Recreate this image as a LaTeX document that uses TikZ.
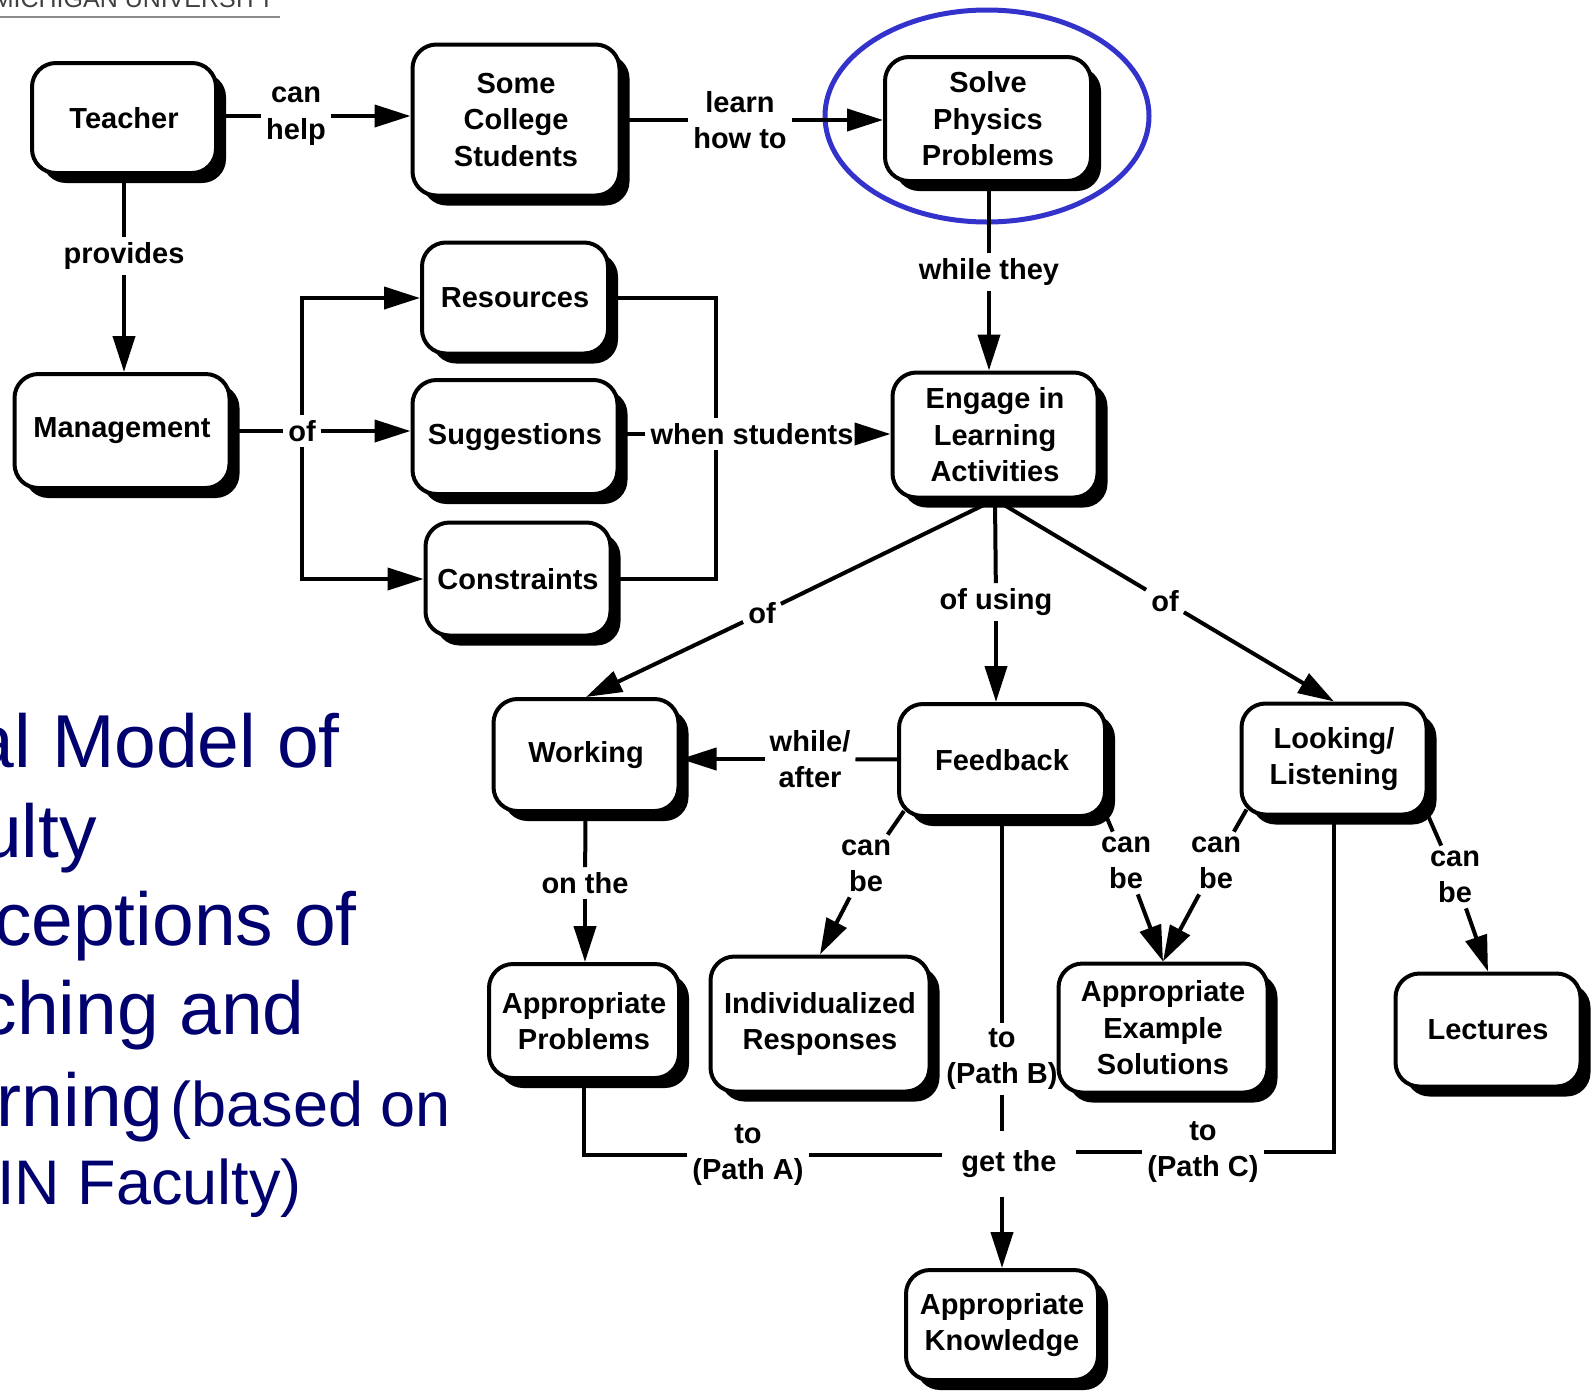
\documentclass[tikz,border=0pt]{standalone}
\usepackage{fontspec}
\setmainfont{Liberation Sans}
\usetikzlibrary{arrows.meta,shadows,backgrounds}

\newcommand{\mapfont}{\fontsize{29}{36.5}\selectfont\bfseries}
\newcommand{\titlebig}{\fontsize{75}{88}\selectfont}
\newcommand{\titlesmall}{\fontsize{63}{77}\selectfont}
\definecolor{titleblue}{RGB}{0,0,110}
\definecolor{ringblue}{RGB}{51,51,204}

\tikzset{
  concept/.style={draw, line width=4pt, rounded corners=24pt, fill=white,
    align=center, font=\mapfont, inner sep=4pt,
    drop shadow={shadow xshift=10pt, shadow yshift=-10pt, opacity=1, fill=black}},
  linkword/.style={font=\mapfont, align=center, inner sep=5pt},
  link/.style={line width=4pt},
  linkarrow/.style={line width=4pt, -{Triangle[length=36pt,width=22pt]}},
  title/.style={font=\titlebig, text=titleblue, inner sep=0pt, anchor=base east},
}

\begin{document}
\begin{tikzpicture}[x=1pt,y=-1pt]
      \useasboundingbox (0,0) rectangle (1593,1393);
      % Header and title
      \node[font=\fontsize{25}{30}\selectfont, text=black!75, anchor=base east, inner sep=0pt] (univ) at (275,7) {MICHIGAN UNIVERSITY};
      \draw[black!45, line width=2.5pt] (0,17) -- (280,17);
      \node[title] (title1) at (340,767)  {al Model of};
      \node[title] (title2) at (97,857)   {ulty};
      \node[title] (title3) at (357,945)  {ceptions of};
      \node[title] (title4) at (305,1034) {ching and};
      \node[title] (title5) at (451,1126) {rning\hspace{7pt}\titlesmall(based on};
      \node[title, font=\titlesmall] (title6) at (302,1204) {IN Faculty)};
      % Concepts
      \node[concept, minimum width=184pt, minimum height=110pt] (teacher) at (124,118) {Teacher};
      \node[concept, minimum width=207pt, minimum height=151pt] (college) at (516,120) {Some\\College\\Students};
      \node[concept, minimum width=206pt, minimum height=124pt] (solve) at (988,119) {Solve\\Physics\\Problems};
      \node[concept, minimum width=186pt, minimum height=111pt] (resources) at (515,298) {Resources};
      \node[concept, minimum width=215pt, minimum height=114pt] (management) at (122,431) {Management};
      \node[concept, minimum width=205pt, minimum height=114pt] (suggestions) at (515,437) {Suggestions};
      \node[concept, minimum width=185pt, minimum height=113pt] (constraints) at (518,579) {Constraints};
      \node[concept, minimum width=205pt, minimum height=125pt] (engage) at (995,435) {Engage in\\Learning\\Activities};
      \node[concept, minimum width=185pt, minimum height=112pt] (working) at (586,755) {Working};
      \node[concept, minimum width=206pt, minimum height=112pt] (feedback) at (1002,760) {Feedback};
      \node[concept, minimum width=185pt, minimum height=111pt] (looking) at (1334,759) {Looking/\\Listening};
      \node[concept, minimum width=190pt, minimum height=114pt] (approblems) at (584,1021) {Appropriate\\Problems};
      \node[concept, minimum width=219pt, minimum height=135pt] (responses) at (820,1024) {Individualized\\Responses};
      \node[concept, minimum width=209pt, minimum height=129pt] (solutions) at (1163,1028) {Appropriate\\Example\\Solutions};
      \node[concept, minimum width=185pt, minimum height=113pt] (lectures) at (1488,1030) {Lectures};
      \node[concept, minimum width=192pt, minimum height=110pt] (knowledge) at (1002,1325) {Appropriate\\Knowledge};
      % Linking words
      \node[linkword] (canhelp) at (296,116) {can\\help};
      \node[linkword] (learn) at (740,120) {learn\\how to};
      \node[linkword] (provides) at (124,256) {provides};
      \node[linkword] (ofmgmt) at (302,431) {of};
      \node[linkword] (whenstud) at (752,434) {when students};
      \node[linkword] (whilethey) at (989,272) {while they};
      \node[linkword] (ofwork) at (762,613) {of};
      \node[linkword] (ofusing) at (996,602) {of using};
      \node[linkword] (oflook) at (1165,601) {of};
      \node[linkword] (whileafter) at (810,759) {while/\\after};
      \node[linkword] (canbeA) at (866,866) {can\\be};
      \node[linkword] (canbeB) at (1126,863) {can\\be};
      \node[linkword] (canbeC) at (1216,863) {can\\be};
      \node[linkword] (canbeD) at (1455,877) {can\\be};
      \node[linkword] (onthe) at (585,883) {on the};
      \node[linkword] (patha) at (748,1155) {to\\(Path A)};
      \node[linkword] (pathb) at (1002,1059) {to\\(Path B)};
      \node[linkword] (pathc) at (1203,1152) {to\\(Path C)};
      \node[linkword, inner sep=19pt] (getthe) at (1009,1164) {get the};
      % Links
      \begin{scope}[on background layer]
      \draw[ringblue, line width=5pt] (987,116) ellipse [x radius=162pt, y radius=106pt];
      \draw[link] (teacher |- canhelp) -- (canhelp);
      \draw[linkarrow] (canhelp) -- (canhelp -| college.west);
      \draw[link] (college |- learn) -- (learn);
      \draw[linkarrow] (learn) -- (learn -| solve.west);
      \draw[link] (provides |- teacher) -- (provides);
      \draw[linkarrow] (provides) -- (provides |- management.north);
      \draw[link] (management) -- (ofmgmt);
      \draw[linkarrow] (ofmgmt) -- (ofmgmt -| suggestions.west);
      \draw[linkarrow] (ofmgmt) |- (resources.west);
      \draw[linkarrow] (ofmgmt) |- (constraints.west);
      \draw[link] (resources) -| ([xshift=-36pt]whenstud.north);
      \draw[link] (constraints) -| ([xshift=-36pt]whenstud.south);
      \draw[link] (suggestions |- whenstud) -- (whenstud);
      \draw[linkarrow] (whenstud) -- (whenstud -| engage.west);
      \draw[link] (whilethey |- solve) -- (whilethey);
      \draw[linkarrow] (whilethey) -- (whilethey |- engage.north);
      \draw[link] (engage.south) -- (ofwork);
      \draw[linkarrow] (ofwork) -- (working.north);
      \draw[link] (engage.south) -- (ofusing);
      \draw[linkarrow] (ofusing) -- (ofusing |- feedback.north);
      \draw[link] (engage.south) -- (oflook);
      \draw[linkarrow] (oflook) -- (looking.north);
      \draw[link] (feedback) -- (whileafter);
      \draw[linkarrow] (whileafter) -- (whileafter -| working.east);
      \draw[link] ([shift={(7pt,7pt)}]feedback.south west) -- (canbeA);
      \draw[linkarrow] (canbeA) -- (responses.north);
      \draw[link] (feedback.south east) -- (canbeB);
      \draw[linkarrow] (canbeB) -- (solutions.north);
      \draw[link] ([shift={(7pt,7pt)}]looking.south west) -- (canbeC);
      \draw[linkarrow] (canbeC) -- (solutions.north);
      \draw[link] (looking.south east) -- (canbeD);
      \draw[linkarrow] (canbeD) -- (lectures.north);
      \draw[link] (working) -- (onthe);
      \draw[linkarrow] (onthe) -- (onthe |- approblems.north);
      \draw[link] (approblems) |- (patha);
      \draw[link] (patha) -- (patha -| getthe.west);
      \draw[link] (feedback) -- (pathb);
      \draw[link] (pathb) -- (pathb |- getthe.north);
      \draw[link] (looking) |- (pathc);
      \draw[link] (pathc) -- (pathc -| getthe.east);
      \draw[linkarrow] (getthe.south -| knowledge) -- (knowledge.north);
      \end{scope}
\end{tikzpicture}
\end{document}
